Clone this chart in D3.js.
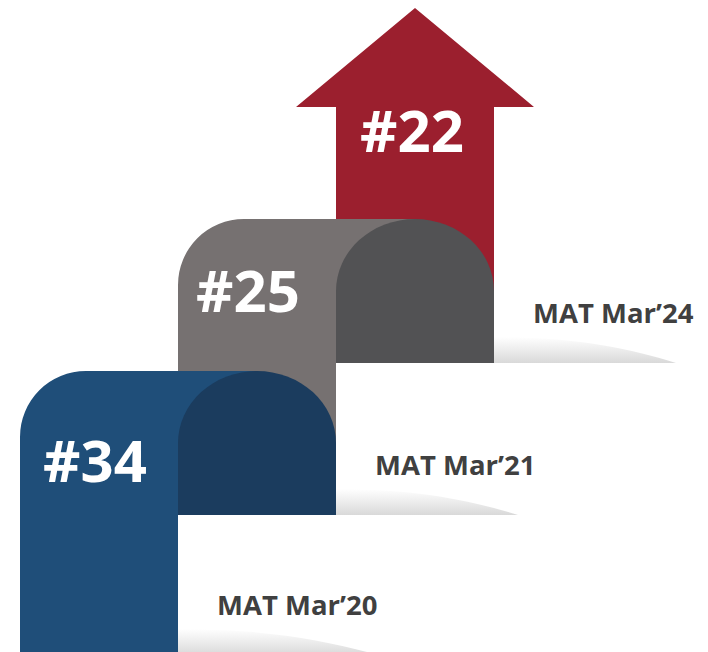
<!DOCTYPE html>
<html>
<head>
<meta charset="utf-8">
<script src="https://cdn.jsdelivr.net/npm/d3@7"></script>
<style>
  html, body { margin: 0; padding: 0; background: #fff; }
  svg { display: block; }
</style>
</head>
<body>
<div id="chart"></div>
<script>
(function() {
  // ranking by period
  var periods = ["MAT Mar’20", "MAT Mar’21", "MAT Mar’24"];
  var ranks = [34, 25, 22];
  var lightColors = ["#1f4e79", "#767171", "#9b1f2e"];
  var darkColors = ["#1b3c5e", "#525254", "#9b1f2e"];

  var width = 708, height = 652;

  var svg = d3.select("#chart")
    .append("svg")
      .attr("width", width)
      .attr("height", height);

  var defs = svg.append("defs");
  var grad = defs.append("linearGradient")
    .attr("id", "shade")
    .attr("x1", 0).attr("y1", 0).attr("x2", 0).attr("y2", 1);
  grad.append("stop").attr("offset", "0%").attr("stop-color", "#ffffff");
  grad.append("stop").attr("offset", "100%").attr("stop-color", "#d9d9d9");

  // steps go left to right, each one step higher
  var x = d3.scaleBand()
    .domain(periods)
    .range([20, 494]);
  var top = d3.scalePoint()
    .domain(periods)
    .range([371, 67]);

  var bw = x.bandwidth();
  var rx = bw / 2, ry = 72, corner = 66;

  function bottomOf(i) {
    // light part runs down to the top of the dark part of the step below
    return i === 0 ? height : top(periods[i - 1]) + 144;
  }

  // draw back to front: arrow first
  var order = d3.range(periods.length).reverse();

  order.forEach(function(i) {
    var p = periods[i], x0 = x(p), t = top(p), g = svg.append("g");

    if (i === periods.length - 1) {
      var shaftTop = t + 40, tip = t - 59, wing = 40;
      var arrow = d3.path();
      arrow.moveTo(x0, bottomOf(i));
      arrow.lineTo(x0, shaftTop);
      arrow.lineTo(x0 - wing, shaftTop);
      arrow.lineTo(x0 + bw / 2, tip);
      arrow.lineTo(x0 + bw + wing, shaftTop);
      arrow.lineTo(x0 + bw, shaftTop);
      arrow.lineTo(x0 + bw, bottomOf(i));
      arrow.closePath();
      g.append("path")
        .attr("d", arrow.toString())
        .attr("fill", lightColors[i]);
      return;
    }

    var darkBottom = t + 144;

    // light ribbon: vertical part + top band under the fold
    var light = d3.path();
    light.moveTo(x0, bottomOf(i));
    light.lineTo(x0, t + corner);
    light.arcTo(x0, t, x0 + corner, t, corner);
    light.lineTo(x0 + bw + rx, t);
    light.lineTo(x0 + bw + rx, darkBottom);
    light.lineTo(x0 + bw, darkBottom);
    light.lineTo(x0 + bw, bottomOf(i));
    light.closePath();
    g.append("path")
      .attr("d", light.toString())
      .attr("fill", lightColors[i]);

    // dark fold with rounded top
    var xa = x0 + bw, xb = x0 + 2 * bw;
    var dark = "M" + xa + "," + darkBottom +
      "L" + xa + "," + (t + ry) +
      "A" + rx + "," + ry + " 0 0 1 " + (xa + rx) + "," + t +
      "A" + rx + "," + ry + " 0 0 1 " + xb + "," + (t + ry) +
      "L" + xb + "," + darkBottom + "Z";
    g.append("path")
      .attr("d", dark)
      .attr("fill", darkColors[i]);
  });

  // floor shadows and period labels
  periods.forEach(function(p, i) {
    var x0 = x(p) + bw;
    var floor = i === 0 ? height + 3 : top(periods[i - 1]) + 144;
    var len = i === 0 ? 200 : 182;
    var sh = d3.path();
    sh.moveTo(x0, floor);
    sh.lineTo(x0, floor - 26);
    sh.bezierCurveTo(x0 + len * 0.45, floor - 26, x0 + len * 0.75, floor - 14, x0 + len, floor);
    sh.closePath();
    svg.append("path")
      .attr("d", sh.toString())
      .attr("fill", "url(#shade)");

    svg.append("text")
      .attr("x", x(p) + 197)
      .attr("y", floor - 40)
      .attr("font-family", "'Open Sans', sans-serif")
      .attr("font-weight", 700)
      .attr("font-size", 27.5)
      .attr("fill", "#404040")
      .text(p);
  });

  // rank numbers
  var rankDy = [111, 93, 85];
  var rankDx = [75, 70, 76];
  periods.forEach(function(p, i) {
    svg.append("text")
      .attr("x", x(p) + rankDx[i])
      .attr("y", top(p) + rankDy[i])
      .attr("text-anchor", "middle")
      .attr("font-family", "'Open Sans', sans-serif")
      .attr("font-weight", 700)
      .attr("font-size", 58)
      .attr("fill", "#ffffff")
      .text("#" + ranks[i]);
  });
})();
</script>
</body>
</html>
